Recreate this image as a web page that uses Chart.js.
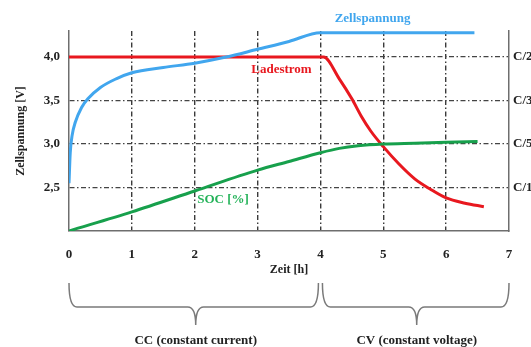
<!DOCTYPE html>
<html>
<head>
<meta charset="utf-8">
<script src="https://cdn.jsdelivr.net/npm/chart.js@4/dist/chart.umd.min.js"></script>
<style>
  html, body { margin: 0; padding: 0; background: #fff; overflow: hidden; }
</style>
</head>
<body>
<canvas id="chart" width="531" height="347"></canvas>
<script>
// charging curves (time in h)
const timeVolt = [0, 0.02, 0.05, 0.1, 0.2, 0.3, 0.5, 0.75, 1, 1.5, 2, 2.5, 3, 3.5, 4, 6.45];
const voltage  = [2.55, 2.9, 3.1, 3.25, 3.42, 3.52, 3.65, 3.75, 3.82, 3.88, 3.93, 4.0, 4.09, 4.18, 4.28, 4.28];

const timeCurr = [0, 4.05, 4.3, 4.5, 4.65, 4.8, 5, 5.25, 5.5, 5.75, 6, 6.3, 6.6];
const current  = [4.0, 4.0, 3.75, 3.52, 3.32, 3.15, 2.97, 2.77, 2.6, 2.48, 2.38, 2.32, 2.28];

const timeSoc = [0, 1, 2, 3, 3.5, 4, 4.3, 4.6, 5, 5.5, 6, 6.5];
const soc     = [2.0, 2.22, 2.46, 2.7, 2.8, 2.9, 2.95, 2.98, 3.0, 3.01, 3.02, 3.03];

const yTickValues = [2.5, 3.0, 3.5, 4.0];
const yTickLabels = ['2,5', '3,0', '3,5', '4,0'];
const rateLabels  = ['C/10', 'C/5', 'C/3', 'C/2'];

const seriesNames = ['Zellspannung', 'Ladestrom', 'SOC [%]'];
const phaseLabels = ['CC (constant current)', 'CV (constant voltage)'];

const BLUE = '#41a6ee';
const RED = '#e8181f';
const GREEN = '#17a04c';
const SERIF = '"Liberation Serif", "DejaVu Serif", serif';
const DASH = [5, 2.5, 1.5, 2.5];

function pts(xs, ys) {
    return xs.map((x, i) => ({ x: x, y: ys[i] }));
}

function drawBrace(ctx, x1, x2, xm, yTop, yMid, yTip) {
    const r = 8;
    ctx.beginPath();
    ctx.moveTo(x1, yTop);
    ctx.quadraticCurveTo(x1, yMid, x1 + r, yMid);
    ctx.lineTo(xm - r, yMid);
    ctx.quadraticCurveTo(xm, yMid, xm, yTip);
    ctx.quadraticCurveTo(xm, yMid, xm + r, yMid);
    ctx.lineTo(x2 - r, yMid);
    ctx.quadraticCurveTo(x2, yMid, x2, yTop);
    ctx.stroke();
}

const annotations = {
    id: 'annotations',
    afterDatasetsDraw(chart) {
        const ctx = chart.ctx;
        const x = chart.scales.x;
        const y = chart.scales.y;
        ctx.save();
        ctx.textAlign = 'center';
        ctx.textBaseline = 'middle';
        ctx.font = 'bold 13px ' + SERIF;
        ctx.fillStyle = BLUE;
        ctx.fillText(seriesNames[0], x.getPixelForValue(4.83), y.getPixelForValue(4.44));
        ctx.fillStyle = RED;
        ctx.fillText(seriesNames[1], x.getPixelForValue(3.38), y.getPixelForValue(3.85));
        ctx.fillStyle = '#25b35a';
        ctx.fillText(seriesNames[2], x.getPixelForValue(2.45), y.getPixelForValue(2.36));

        // phase braces below the axis
        const bottom = chart.chartArea.bottom;
        const x0 = x.getPixelForValue(0);
        const x4 = x.getPixelForValue(4);
        const x7 = x.getPixelForValue(7);
        ctx.strokeStyle = '#7a7a7a';
        ctx.lineWidth = 1.5;
        drawBrace(ctx, x0, x4 - 2, (x0 + x4) / 2 + 1, bottom + 52, bottom + 76, bottom + 94);
        drawBrace(ctx, x4 + 2, x7, (x4 + x7) / 2 + 2, bottom + 52, bottom + 76, bottom + 94);

        ctx.fillStyle = '#222';
        ctx.font = 'bold 13px ' + SERIF;
        ctx.fillText(phaseLabels[0], (x0 + x4) / 2 + 1, bottom + 110);
        ctx.fillText(phaseLabels[1], (x4 + x7) / 2 + 2, bottom + 110);
        ctx.restore();
    }
};

const lineStyle = {
    borderWidth: 3,
    pointRadius: 0,
    fill: false,
    cubicInterpolationMode: 'monotone'
};

const config = {
    type: 'line',
    data: {
        datasets: [
            Object.assign({ label: seriesNames[2], data: pts(timeSoc, soc), borderColor: GREEN }, lineStyle),
            Object.assign({ label: seriesNames[0], data: pts(timeVolt, voltage), borderColor: BLUE }, lineStyle),
            Object.assign({ label: seriesNames[1], data: pts(timeCurr, current), borderColor: RED }, lineStyle)
        ]
    },
    options: {
        responsive: false,
        animation: false,
        layout: { padding: { top: 31, left: 0, right: 0, bottom: 0 } },
        plugins: {
            legend: { display: false },
            tooltip: { enabled: false }
        },
        scales: {
            x: {
                type: 'linear',
                min: 0,
                max: 7,
                ticks: {
                    stepSize: 1,
                    padding: 16,
                    color: '#222',
                    font: { family: SERIF, size: 13, weight: 'bold' }
                },
                grid: {
                    drawTicks: false,
                    lineWidth: 1.4,
                    color: (c) => (c.tick && (c.tick.value === 0 || c.tick.value === 7)) ? 'rgba(0,0,0,0)' : '#3a3a3a'
                },
                border: { color: '#6e6e6e', width: 1.5, dash: DASH },
                title: {
                    display: true,
                    text: 'Zeit [h]',
                    color: '#222',
                    font: { family: SERIF, size: 12, weight: 'bold' },
                    padding: { top: 0, bottom: 70 }
                },
                afterFit: (s) => { s.height = 116; }
            },
            y: {
                position: 'left',
                min: 2.0,
                max: 4.3,
                afterBuildTicks: (s) => { s.ticks = yTickValues.map(v => ({ value: v })); },
                ticks: {
                    padding: 9,
                    color: '#222',
                    font: { family: SERIF, size: 13, weight: 'bold' },
                    callback: (v) => yTickLabels[yTickValues.indexOf(v)]
                },
                grid: { drawTicks: false, lineWidth: 1.3, color: '#444' },
                border: { color: '#6e6e6e', width: 1.5, dash: DASH },
                title: {
                    display: true,
                    text: 'Zellspannung [V]',
                    color: '#222',
                    font: { family: SERIF, size: 12, weight: 'bold' },
                    padding: { top: 14, bottom: 0 }
                },
                afterFit: (s) => { s.width = 69; }
            },
            y2: {
                position: 'right',
                min: 2.0,
                max: 4.3,
                afterBuildTicks: (s) => { s.ticks = yTickValues.map(v => ({ value: v })); },
                ticks: {
                    padding: 4,
                    color: '#222',
                    font: { family: SERIF, size: 13, weight: 'bold' },
                    callback: (v) => rateLabels[yTickValues.indexOf(v)]
                },
                grid: { display: false, drawTicks: false },
                border: { color: '#6e6e6e', width: 1.5 },
                afterFit: (s) => { s.width = 22; }
            }
        }
    },
    plugins: [annotations]
};

const myChart = new Chart(document.getElementById('chart'), config);
</script>
</body>
</html>
